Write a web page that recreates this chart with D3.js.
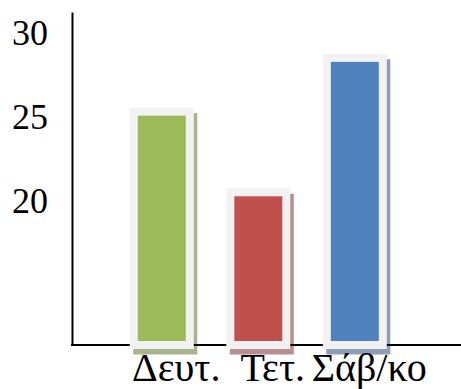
<!DOCTYPE html>
<html>
<head>
<meta charset="utf-8">
<script src="https://cdn.jsdelivr.net/npm/d3@7"></script>
<style>
  html, body { margin: 0; padding: 0; background: #ffffff; }
  svg { display: block; }
  text { font-family: "Liberation Serif", "Times New Roman", serif; }
</style>
</head>
<body>
<svg id="chart" width="461" height="389"></svg>
<script>
// ---- data ----
const categories = ["Δευτ.", "Τετ.", "Σάβ/κο"];
const values = [25.3, 20.5, 28.5];
const yTicks = [20, 25, 30];
const yDomain = [11.41, 31.23];

// ---- styles ----
const barColors = ["#9bbb59", "#c0504d", "#4f81bd"];
const shadowColors = ["#a9b38f", "#b98e8f", "#8e9db5"];
const frameColor = "#f2f2f2";

const W = 461, H = 389;
const svg = d3.select("#chart");

const x = d3.scaleBand()
  .domain(categories)
  .range([133.8, 382.8])
  .paddingInner(0.42)
  .paddingOuter(0);

const y = d3.scaleLinear()
  .domain(yDomain)
  .range([345, 12]);

const data = categories.map((c, i) => ({ c, v: values[i], i }));

// shadows
svg.append("g")
  .attr("transform", "translate(3.5,5.5)")
  .selectAll("rect")
  .data(data)
  .join("rect")
  .attr("x", d => x(d.c))
  .attr("y", d => y(d.v))
  .attr("width", x.bandwidth())
  .attr("height", d => y(yDomain[0]) - y(d.v))
  .attr("fill", d => shadowColors[d.i])
  .attr("stroke", d => shadowColors[d.i])
  .attr("stroke-width", 8);

// y axis
const yAxis = svg.append("g")
  .attr("transform", "translate(72,0)")
  .call(d3.axisLeft(y).tickValues(yTicks).tickSize(0).tickSizeOuter(0).tickPadding(24).tickFormat(d3.format("d")));
yAxis.select(".domain").attr("stroke", "#000").attr("stroke-width", 2);
yAxis.selectAll("text")
  .attr("font-size", 36)
  .attr("fill", "#000")
  .style("font-family", "'Liberation Serif', serif");

// x axis line
svg.append("line")
  .attr("x1", 71)
  .attr("x2", W)
  .attr("y1", y(yDomain[0]))
  .attr("y2", y(yDomain[0]))
  .attr("stroke", "#000")
  .attr("stroke-width", 2);

// bars
svg.append("g")
  .selectAll("rect")
  .data(data)
  .join("rect")
  .attr("x", d => x(d.c))
  .attr("y", d => y(d.v))
  .attr("width", x.bandwidth())
  .attr("height", d => y(yDomain[0]) - y(d.v))
  .attr("fill", d => barColors[d.i])
  .attr("stroke", frameColor)
  .attr("stroke-width", 8);

// category labels
svg.append("g")
  .selectAll("text")
  .data(data)
  .join("text")
  .attr("x", d => x(d.c) + x.bandwidth() / 2 + 14.4)
  .attr("y", 381)
  .attr("text-anchor", "middle")
  .attr("font-size", 40)
  .attr("fill", "#000")
  .text(d => d.c);
</script>
</body>
</html>
